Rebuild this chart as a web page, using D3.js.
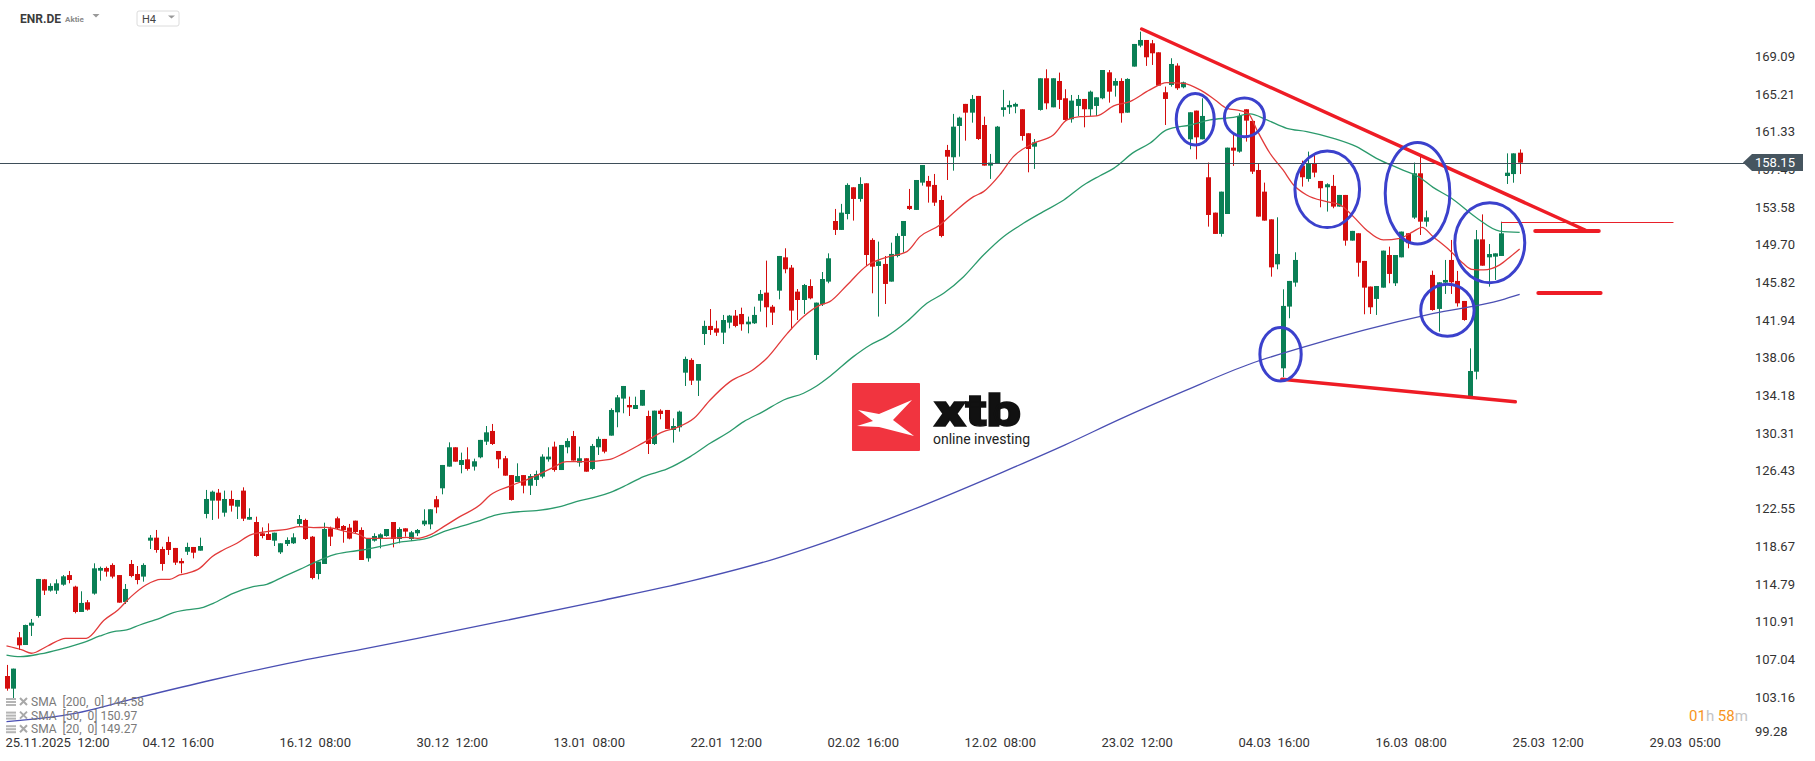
<!DOCTYPE html>
<meta charset="utf-8">
<style>
  body { margin: 0; background: #fff; }
  svg { display: block; font-family: Roboto, "Open Sans", sans-serif; }
  .xaxis text, .yaxis text { fill: #333; white-space: pre; }
  .legend text { fill: #7a7a7a; font-size: 12px; white-space: pre; }
</style>

<script src="https://d3js.org/d3.v7.min.js"></script>

<div id="my_dataviz"></div>

<script>
// H4 candles, 25.11.2025 12:00 -> 25.03 16:00 (one value per candle)
var opens = [
  105.31,104.01,109.29,108.50,110.49,111.49,115.26,114.10,114.10,114.71,
  115.70,114.51,111.90,112.90,113.79,116.15,116.43,116.74,115.70,112.93,
  116.84,115.81,115.54,119.24,119.55,118.38,119.10,118.49,117.15,118.10,
  118.59,118.21,121.99,123.36,124.18,122.12,123.53,122.74,124.39,121.40,
  121.16,120.00,119.93,119.24,118.04,118.90,118.97,120.96,121.37,119.65,
  115.81,116.84,120.51,121.54,120.75,120.58,121.30,120.34,117.42,119.24,
  119.48,119.72,121.16,119.41,120.51,119.41,120.00,120.92,120.92,123.50,
  124.63,126.86,128.85,127.03,127.61,126.86,127.82,129.43,130.53,128.47,
  127.72,125.99,125.28,125.99,124.90,125.49,125.83,127.61,128.92,126.51,
  128.85,130.01,127.27,127.72,126.62,128.85,129.71,130.05,132.45,133.86,
  133.20,132.79,133.13,132.07,129.19,132.62,132.69,130.63,130.91,136.53,
  137.84,135.71,140.51,141.34,141.09,140.65,141.68,142.40,142.57,141.51,
  141.61,143.94,144.77,143.32,144.97,148.40,147.34,144.87,144.01,145.45,
  138.35,143.57,145.90,152.14,151.22,152.86,155.61,154.41,156.02,150.19,
  147.51,147.72,145.90,148.54,150.60,153.69,153.28,156.09,156.26,155.85,
  154.30,159.45,158.70,161.92,164.19,163.29,165.01,162.02,157.84,158.01,
  163.57,163.84,163.91,163.64,161.17,159.79,163.57,166.83,163.84,166.55,
  164.77,162.61,163.98,164.70,163.64,163.98,164.77,167.44,166.07,166.55,
  163.29,168.03,170.19,170.77,170.43,169.50,165.39,166.14,168.13,165.90,
  160.55,163.50,160.55,156.64,153.00,150.81,152.86,159.69,159.28,163.64,
  162.44,157.39,155.16,152.31,147.68,136.98,143.33,145.80,157.84,156.47,
  158.08,156.26,155.61,155.75,153.62,154.82,150.12,150.88,148.03,145.39,
  144.12,145.28,148.64,145.73,148.40,150.88,152.49,157.05,152.07,146.59,
  143.09,145.80,148.13,145.97,143.91,134.06,136.63,150.25,148.40,148.47,
  148.54,156.77,156.97,159.17
];
var highs = [
  106.45,106.07,109.84,110.60,111.18,115.30,115.30,114.85,115.26,115.70,
  116.12,114.60,114.03,113.13,116.91,116.57,116.57,116.91,115.70,114.78,
  117.25,116.63,116.91,119.82,120.34,118.62,119.65,118.49,117.42,119.03,
  118.59,119.55,124.46,124.39,124.56,124.39,124.39,123.43,124.73,122.57,
  121.71,120.61,121.02,120.06,118.97,119.58,120.00,121.88,121.50,119.72,
  117.08,121.09,120.68,121.71,120.85,120.96,121.30,120.61,119.48,120.00,
  120.00,120.44,121.16,120.61,120.51,120.24,120.44,122.47,122.47,123.84,
  127.03,129.36,128.85,128.30,128.85,127.68,129.61,131.04,131.25,128.47,
  127.96,125.99,127.20,125.99,126.10,126.45,128.13,128.85,129.43,129.09,
  129.78,130.53,128.92,127.72,129.19,129.95,129.71,132.86,134.23,135.16,
  134.06,134.06,134.75,132.62,132.62,132.76,132.69,131.83,132.62,138.18,
  138.01,137.42,141.88,143.08,141.88,142.47,142.47,142.98,143.22,142.30,
  143.32,145.04,148.06,143.50,148.54,149.33,147.61,145.14,145.66,146.14,
  143.74,146.89,148.81,153.38,153.90,156.02,155.61,156.64,156.02,150.36,
  150.02,148.54,149.91,150.87,152.14,155.44,156.36,157.90,156.78,156.98,
  154.75,159.97,163.16,162.88,164.19,165.11,165.01,162.88,159.04,161.92,
  165.63,164.53,164.32,163.64,161.17,160.58,166.83,167.75,166.83,167.41,
  165.70,165.11,165.11,164.70,165.56,164.87,167.68,167.68,166.83,166.83,
  166.83,170.36,171.63,170.77,170.77,169.50,165.97,168.89,168.37,166.48,
  163.33,163.50,164.77,158.15,153.00,155.16,159.69,161.06,163.23,163.64,
  162.44,158.08,156.09,152.31,152.52,145.11,145.97,148.92,158.35,159.28,
  158.94,156.26,156.02,156.88,154.82,154.82,151.12,150.88,148.03,145.39,
  145.45,149.09,149.50,148.64,151.05,150.88,158.15,158.94,153.21,147.03,
  145.83,148.13,150.19,147.00,143.91,139.03,151.21,152.82,149.77,148.81,
  152.07,159.10,159.10,159.51
];
var lows = [
  103.80,102.84,107.99,108.50,109.43,111.32,113.65,114.00,113.75,114.60,
  114.85,111.76,111.90,112.04,113.68,115.12,115.54,115.36,112.86,112.72,
  115.47,114.75,115.02,118.38,118.00,116.15,117.77,116.74,115.88,117.77,
  117.42,118.21,121.54,121.37,121.50,121.71,122.23,121.47,121.26,121.40,
  117.59,119.48,119.31,118.69,117.87,118.69,118.90,120.75,119.31,115.26,
  115.26,116.84,118.69,120.41,119.03,119.38,119.93,117.25,117.08,119.14,
  118.45,119.65,118.55,118.97,119.65,119.20,119.72,120.75,120.41,122.06,
  124.01,126.86,127.37,126.17,126.45,126.45,127.72,129.09,129.09,126.69,
  125.93,123.36,125.28,124.11,123.94,124.87,125.66,127.37,126.34,126.51,
  128.23,127.48,126.86,126.34,126.51,128.06,128.23,130.05,130.91,132.35,
  132.07,132.79,133.13,128.16,129.09,131.73,130.74,129.33,130.46,135.16,
  135.26,134.13,139.38,140.41,140.31,139.48,141.09,141.20,140.85,140.58,
  141.54,142.81,141.20,141.44,144.08,146.76,140.99,141.95,142.57,144.08,
  137.84,143.39,145.73,150.70,151.22,152.31,152.18,154.13,147.51,144.70,
  142.30,143.60,145.90,148.40,148.88,153.28,153.28,155.78,154.03,153.69,
  150.46,156.36,157.32,158.76,160.41,162.26,160.48,157.84,156.47,158.01,
  162.88,163.16,163.23,160.41,157.15,157.50,163.50,163.64,163.84,163.67,
  162.44,162.26,162.95,161.78,162.95,162.95,164.67,164.32,164.94,162.26,
  163.29,168.03,170.02,168.10,168.20,166.07,162.02,165.97,165.63,165.80,
  159.52,158.49,160.55,151.56,150.81,150.53,152.86,157.81,159.17,160.31,
  156.98,152.59,152.18,146.41,147.17,136.06,142.13,145.38,155.68,156.19,
  156.64,153.55,153.11,153.45,153.62,149.60,150.12,146.41,142.54,142.57,
  142.47,145.28,145.73,145.45,148.40,149.33,152.35,150.70,151.56,142.91,
  140.75,144.63,144.63,143.33,141.88,134.06,135.84,147.54,145.38,146.07,
  148.54,155.95,156.08,156.97
];
var closes = [
  104.01,106.07,108.47,110.56,110.80,115.30,114.10,114.58,114.85,115.57,
  115.19,111.90,112.83,112.14,116.39,116.43,116.05,115.54,112.86,114.27,
  115.60,115.19,116.74,119.55,118.28,116.84,118.28,116.98,116.91,118.59,
  118.00,118.69,123.53,124.28,123.36,123.53,122.84,123.43,121.50,121.68,
  117.66,119.72,119.31,120.06,118.97,119.31,119.58,121.47,119.41,115.40,
  117.08,120.44,119.65,120.51,120.34,119.45,120.13,117.25,119.48,119.72,
  119.89,120.44,119.41,120.44,120.17,120.10,120.34,121.30,122.47,122.67,
  127.03,128.85,127.37,127.54,126.62,127.41,129.61,130.39,129.19,127.61,
  125.93,123.43,125.89,124.90,125.89,126.10,127.89,127.89,126.51,129.09,
  129.50,127.48,127.72,126.34,128.99,129.71,128.40,132.69,133.99,135.16,
  132.96,133.20,134.75,129.19,132.62,132.28,130.74,131.04,132.52,137.94,
  135.71,137.42,141.34,140.92,140.65,141.95,142.40,141.34,141.51,141.78,
  142.47,144.63,143.26,142.71,148.54,147.17,142.92,144.01,145.55,144.18,
  143.74,146.17,148.30,151.22,153.00,155.85,154.41,155.95,148.64,147.44,
  147.99,145.66,148.75,150.60,152.14,153.38,156.36,157.90,155.68,154.03,
  150.60,158.76,161.85,162.78,163.29,164.70,160.58,157.84,158.15,161.85,
  163.84,164.08,164.19,160.89,159.55,160.24,166.83,164.25,166.83,164.60,
  162.54,164.53,164.70,163.64,165.45,164.87,167.68,165.45,166.55,163.23,
  166.76,170.36,170.77,168.99,169.40,166.07,164.70,168.30,165.80,166.41,
  163.33,160.75,162.95,152.76,150.81,155.16,159.69,159.38,162.95,162.47,
  157.22,152.59,152.18,147.37,148.75,143.40,145.97,148.13,156.64,158.08,
  157.12,155.51,155.92,153.62,154.82,150.12,151.12,147.85,145.28,143.26,
  145.45,149.09,146.69,148.64,151.05,149.85,157.05,152.07,152.52,142.98,
  145.83,146.07,145.83,143.67,141.95,136.70,150.25,147.54,148.74,148.81,
  150.87,157.11,159.10,158.15
];

// moving averages: [candle index, value]
var sma20 = [[0,108.4],[2.5,107.99],[4,107.65],[6.6,108.4],[9.5,109.19],[12.8,109.19],[15.7,111.08],[17.9,112.11],
  [20,113.48],[22.4,114.68],[24.8,115.26],[26.2,115.26],[27.8,115.71],[29,115.88],[31,116.39],[33,117.59],[34.8,118.28],
  [37,118.97],[39.1,119.82],[41.8,120.17],[45,120.41],[47.1,120.68],[49.3,120.58],[51.4,120.61],[54.6,120.17],[56.8,119.82],
  [57.8,119.48],[61,119.48],[64.3,119.58],[66,119.48],[68,119.83],[70.2,120.68],[72.8,121.71],[76,122.91],[77.7,123.94],
  [80.9,124.87],[84.1,125.66],[87.3,126.62],[90,127.37],[92.6,127.37],[96.9,127.61],[99.1,128.23],[102.3,129.33],
  [105.5,130.46],[107.6,130.87],[110.4,131.83],[113,133.72],[116.2,135.61],[120,136.88],[122.1,138.01],[125.4,140.58],
  [128,142.3],[130.7,143.5],[132.2,143.84],[135,145.56],[138.1,147.51],[141.3,148.4],[144.6,148.99],[146.7,150.53],
  [149.9,151.73],[152,152.93],[155.3,154.65],[156.9,155.16],[159.5,156.88],[161.7,158.76],[164.9,160.14],[168.1,160.99],
  [170.3,162.54],[172.4,162.88],[175.1,162.95],[177.8,163.98],[180.4,164.43],[183.6,165.63],[186.3,166.38],[189,166.31],
  [191.7,165.63],[194.1,164.6],[196,163.74],[198.1,163.5],[199.4,163.23],[200.8,161.51],[202.9,159.11],[205,157.39],
  [206.7,155.85],[208.8,154.82],[212,154.13],[214.2,153.79],[216.3,152.59],[218.4,151.22],[221.1,150.19],[223.8,150.36],
  [225.9,151.05],[227.3,151.49],[229.1,150.53],[231.7,149.16],[233.9,147.79],[235.3,147.17],[237.2,147.1],[239.8,147.62],
  [241.5,148.47],[243,149.27]];
var sma50 = [[0,107.47],[2.2,107.3],[5.4,107.58],[8.6,108.06],[12.3,108.74],[15,109.43],[17.2,109.88],[19.3,110.05],
  [21.4,110.56],[24.6,111.25],[26.8,111.83],[28.9,112.11],[31.6,112.38],[33.2,112.79],[36.4,113.82],[39.6,114.51],
  [41.8,114.75],[44.5,115.54],[47.1,116.29],[49.8,117.08],[52.5,117.77],[55.2,118.11],[57.8,118.35],[61.1,118.79],
  [63.7,119.14],[66.1,119.31],[67.5,119.48],[70.2,120.17],[72.8,120.68],[75.5,121.2],[78.7,121.89],[82.5,122.23],
  [85.1,122.33],[88.9,122.74],[92.1,123.36],[94.8,123.77],[97,124.22],[99.6,124.97],[102.3,125.83],[106.1,126.62],
  [109.8,127.89],[113,129.26],[115.7,130.29],[118.4,131.49],[121.5,132.52],[124.8,133.72],[128,134.41],[130.1,135.16],
  [132.3,136.19],[136,138.18],[138.7,139.38],[141.3,140.24],[144.6,141.79],[147.8,143.67],[150.5,144.7],[153.7,146.41],
  [156.9,148.64],[160.1,150.53],[163.3,151.9],[166.5,153.1],[169.8,154.3],[173,155.85],[175.6,156.8],[177.8,157.56],
  [181,159.2],[183.6,160.14],[186.3,161.51],[190.1,162.02],[193.3,162.54],[197,162.81],[199.7,163.16],[202.4,162.54],
  [205.6,161.68],[208.8,161.34],[213.1,160.65],[216.8,159.79],[220,158.59],[223.8,157.5],[226.9,156.64],[229.1,155.6],
  [232,154.5],[236,152.5],[239.8,151.1],[243,150.97]];
var sma200 = [[0,100.61],[11,101.47],[20,102.9],[33,104.9],[47,106.85],[57,108.06],[66,109.19],[80,111.0],[95,113.0],
  [110,115.1],[123,117.3],[132,119.2],[145,122.3],[160,126.3],[170,129.1],[179,131.8],[189,134.6],[200,137.5],
  [208,139.1],[218,140.9],[229,142.6],[240,144.0],[243,144.58]];

// axis labels
var yTicks = [169.09,165.21,161.33,157.45,153.58,149.70,145.82,141.94,138.06,134.18,130.31,126.43,122.55,118.67,114.79,110.91,107.04,103.16,99.28];
var xTickIdx = [0,22,44,66,88,110,132,154,176,198,220,242,264];
var xTickLabels = ["25.11.2025  12:00","04.12  16:00","16.12  08:00","30.12  12:00","13.01  08:00","22.01  12:00",
  "02.02  16:00","12.02  08:00","23.02  12:00","04.03  16:00","16.03  08:00","25.03  12:00","29.03  05:00"];
var legendRows = ["SMA  [200,  0] 144.58","SMA  [50,  0] 150.97","SMA  [20,  0] 149.27"];

// drawn annotations, in [candle index, price]
var trendLines = [[[182.3,171.9],[253.5,151.21]], [[204.8,135.85],[242.3,133.54]]];
var levelLines = [[245.5,255.7,151.11],[246,256,144.73]];
var thinLevel = [240,267.7,152.07];
var circles = [[190.9,162.61,3.05,2.65],[198.8,162.81,3.21,1.99],[212.1,155.4,5.19,3.94],[226.6,154.99,5.19,5.22],
  [204.6,138.42,3.32,2.75],[231.4,142.95,4.29,2.68],[238.2,149.9,5.62,4.12]];

var W = 1815, H = 761;
var svg = d3.select("#my_dataviz").append("svg").attr("width", W).attr("height", H);

var x = d3.scaleLinear().domain([0, 243]).range([6.5, 6.5 + 243 * 6.227]);
var y = d3.scaleLinear().domain([99.28, 169.09]).range([734.6, 56.3]);

// watermark logo
var logo = svg.append("g").attr("transform", "translate(852,383)");
logo.append("rect").attr("width", 68).attr("height", 68).attr("rx", 1).style("fill", "#f1343f");
logo.append("path")
  .attr("d", "M6,27 L27,31 L60,17 L41,37 L62,53 L27,44 L5,43 L21,38 Z")
  .style("fill", "#fff");
logo.append("text").attr("x", 82).attr("y", 43).attr("textLength", 87).attr("lengthAdjust", "spacingAndGlyphs")
  .style("font-size", "44px").style("font-weight", 900).style("fill", "#111")
  .style("stroke", "#111").style("stroke-width", 1.4).text("xtb");
logo.append("text").attr("x", 81).attr("y", 61).attr("textLength", 97)
  .style("font-size", "14px").style("fill", "#222").text("online investing");

// candles
var idx = d3.range(opens.length);
var candle = svg.append("g").selectAll("g").data(idx).enter().append("g")
  .style("fill", function(i){ return closes[i] >= opens[i] ? "#0a7f55" : "#d40d0d"; })
  .style("stroke", function(i){ return closes[i] >= opens[i] ? "#0a7f55" : "#d40d0d"; });
candle.append("line")
  .attr("x1", function(i){ return Math.round(x(i)) + 0.5; })
  .attr("x2", function(i){ return Math.round(x(i)) + 0.5; })
  .attr("y1", function(i){ return y(highs[i]); })
  .attr("y2", function(i){ return y(lows[i]); })
  .style("stroke-width", 1);
candle.append("rect")
  .attr("x", function(i){ return Math.round(x(i)) - 2; })
  .attr("width", 5)
  .attr("y", function(i){ return y(Math.max(opens[i], closes[i])); })
  .attr("height", function(i){ return Math.max(1, Math.abs(y(opens[i]) - y(closes[i]))); })
  .style("stroke", "none");

// moving averages
var line = d3.line().x(function(d){ return x(d[0]); }).y(function(d){ return y(d[1]); }).curve(d3.curveMonotoneX);
[[sma200, "#4a4fb3"], [sma50, "#2b9a6c"], [sma20, "#e23a3a"]].forEach(function(s){
  svg.append("path").attr("d", line(s[0]))
    .style("fill", "none").style("stroke", s[1]).style("stroke-width", 1.3);
});

// last price line
var last = closes[closes.length - 1];
svg.append("line").attr("x1", 0).attr("x2", 1745).attr("y1", Math.round(y(last)) + 0.5).attr("y2", Math.round(y(last)) + 0.5)
  .style("stroke", "#3e4e59").style("stroke-width", 1);

// annotations
trendLines.forEach(function(t){
  svg.append("line").attr("x1", x(t[0][0])).attr("y1", y(t[0][1])).attr("x2", x(t[1][0])).attr("y2", y(t[1][1]))
    .style("stroke", "#ee1c25").style("stroke-width", 3.5).style("stroke-linecap", "round");
});
levelLines.forEach(function(t){
  svg.append("line").attr("x1", x(t[0])).attr("x2", x(t[1])).attr("y1", y(t[2])).attr("y2", y(t[2]))
    .style("stroke", "#ee1c25").style("stroke-width", 4).style("stroke-linecap", "round");
});
svg.append("line").attr("x1", x(thinLevel[0])).attr("x2", x(thinLevel[1]))
  .attr("y1", Math.round(y(thinLevel[2])) + 0.5).attr("y2", Math.round(y(thinLevel[2])) + 0.5)
  .style("stroke", "#e8202a").style("stroke-width", 1);
svg.selectAll("ellipse.mark").data(circles).enter().append("ellipse")
  .attr("cx", function(d){ return x(d[0]); })
  .attr("cy", function(d){ return y(d[1]); })
  .attr("rx", function(d){ return x(d[2]) - x(0); })
  .attr("ry", function(d){ return y(0) - y(d[3]); })
  .style("fill", "none").style("stroke", "#3b41cc").style("stroke-width", 3);

// axes
var xAxis = svg.append("g").attr("class", "xaxis").attr("transform", "translate(0,735)")
  .call(d3.axisBottom(x).tickValues(xTickIdx).tickFormat(function(d, i){ return xTickLabels[i]; }).tickSize(0));
xAxis.select(".domain").remove();
xAxis.attr("font-family", null).attr("font-size", 13);
xAxis.selectAll("text").attr("text-anchor", "start").attr("x", -1.5);

var yAxis = svg.append("g").attr("class", "yaxis").attr("transform", "translate(1755,0)")
  .call(d3.axisRight(y).tickValues(yTicks).tickFormat(d3.format(".2f")).tickSize(0).tickPadding(0));
yAxis.select(".domain").remove();
yAxis.attr("font-family", null).attr("font-size", 13);
yAxis.selectAll(".tick").filter(function(d){ return d === yTicks[yTicks.length - 1]; })
  .select("text").attr("y", -3);

// last price tag
var ly = y(last);
svg.append("path")
  .attr("d", "M1743," + ly + " L1752," + (ly - 8.5) + " L1803," + (ly - 8.5) + " L1803," + (ly + 8.5) + " L1752," + (ly + 8.5) + " Z")
  .style("fill", "#46555f");
svg.append("text").attr("x", 1755).attr("y", ly).attr("dy", "0.35em")
  .style("font-size", "13px").style("fill", "#fff").text(d3.format(".2f")(last));

// header
svg.append("text").attr("x", 20).attr("y", 23).style("font-size", "12px").style("font-weight", "bold").style("fill", "#3c3c3c").text("ENR.DE");
svg.append("text").attr("x", 65).attr("y", 22).style("font-size", "8px").style("font-weight", "bold").style("fill", "#8a8a8a").text("Aktie");
svg.append("path").attr("d", "M92.5,14 L99.5,14 L96,17.5 Z").style("fill", "#999");
svg.append("rect").attr("x", 137).attr("y", 11).attr("width", 42).attr("height", 15).attr("rx", 2)
  .style("fill", "#fff").style("stroke", "#dcdcdc");
svg.append("text").attr("x", 142).attr("y", 23).style("font-size", "11px").style("fill", "#444").text("H4");
svg.append("path").attr("d", "M168,15.5 L175,15.5 L171.5,18.5 Z").style("fill", "#999");

// indicator legend
var legend = svg.append("g").attr("class", "legend");
legendRows.forEach(function(t, i){
  var by = 706 + i * 13.6;
  var g = legend.append("g").attr("transform", "translate(0," + by + ")");
  [-8, -5, -2].forEach(function(o){
    g.append("rect").attr("x", 6).attr("y", o).attr("width", 10).attr("height", 2).style("fill", "#b5b5b5");
  });
  g.append("path").attr("d", "M20,-8 L27,-1 M27,-8 L20,-1").style("stroke", "#a8a8a8").style("stroke-width", 2);
  g.append("text").attr("x", 31).attr("y", 0).text(t);
});

// candle countdown
var timer = svg.append("text").attr("x", 1689).attr("y", 721).style("font-size", "15px");
timer.append("tspan").style("fill", "#f7941d").text("01");
timer.append("tspan").style("fill", "#c4c4c4").text("h ");
timer.append("tspan").style("fill", "#f7941d").text("58");
timer.append("tspan").style("fill", "#c4c4c4").text("m");
</script>
